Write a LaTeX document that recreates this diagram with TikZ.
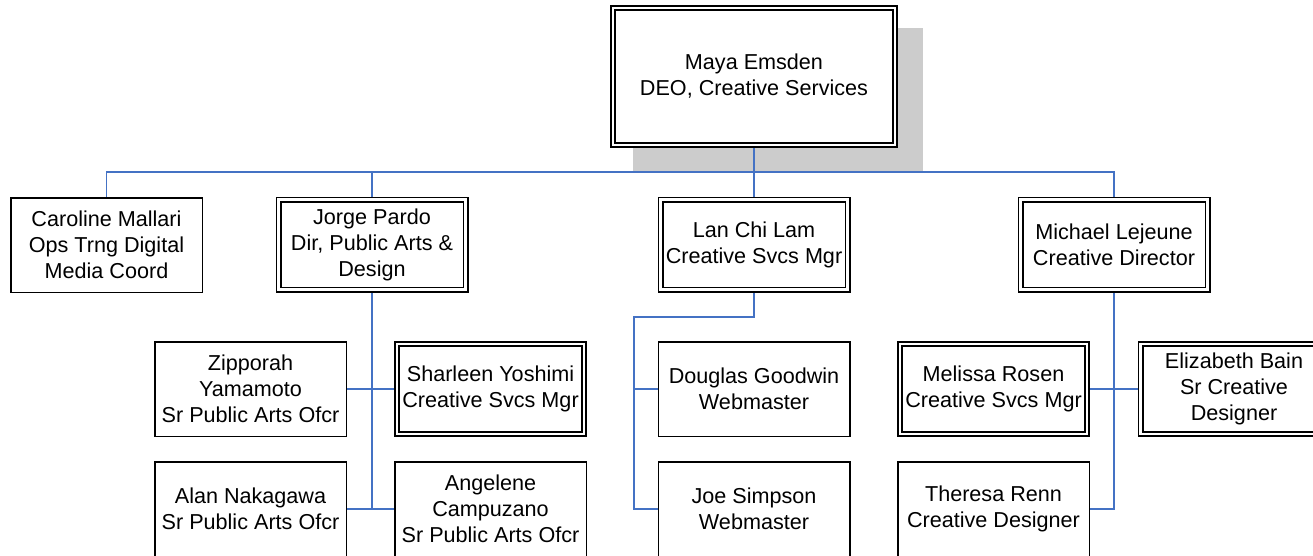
\documentclass[tikz,border=0pt]{standalone}
\usepackage{fontspec}
\setmainfont{Liberation Sans}
\usetikzlibrary{backgrounds}
\definecolor{connblue}{RGB}{68,114,196}
\definecolor{shadowgray}{RGB}{204,204,204}
\tikzset{
  box/.style={draw=black, line width=1.5pt, fill=white, minimum width=191.5pt, minimum height=94.5pt,
    align=center, inner sep=0pt, font=\fontsize{21.6}{26}\selectfont},
  dbox/.style={box, line width=1.7pt, double=white, double distance=2.6pt, minimum width=187pt, minimum height=90pt},
  conn/.style={draw=connblue, line width=1.8pt},
  shadowbox/.style={fill=shadowgray, draw=none}
}
\begin{document}
\begin{tikzpicture}[x=1pt,y=-1pt]
\useasboundingbox (0,0) rectangle (1313,556);
\clip (0,0) rectangle (1313,556);
% nodes
\node[dbox, minimum width=282pt, minimum height=137pt] (maya) at (754,76.5) {Maya Emsden\\DEO, Creative Services};
\node[box] (caroline) at (106.5,245) {Caroline Mallari\\Ops Trng Digital\\Media Coord};
\node[dbox] (jorge) at (372,244.5) {Jorge Pardo\\Dir, Public Arts \&\\Design};
\node[dbox] (lan) at (754,244.5) {Lan Chi Lam\\Creative Svcs Mgr};
\node[dbox] (michael) at (1114,244.5) {Michael Lejeune\\Creative Director};
\node[box] (zipporah) at (250.5,389) {Zipporah\\Yamamoto\\Sr Public Arts Ofcr};
\node[dbox] (sharleen) at (490.5,389) {Sharleen Yoshimi\\Creative Svcs Mgr};
\node[box] (alan) at (250.5,509) {Alan Nakagawa\\Sr Public Arts Ofcr};
\node[box] (angelene) at (490.5,509) {Angelene\\Campuzano\\Sr Public Arts Ofcr};
\node[box] (douglas) at (754,389) {Douglas Goodwin\\Webmaster};
\node[box] (joe) at (754,509) {Joe Simpson\\Webmaster};
\node[dbox] (melissa) at (993.5,389) {Melissa Rosen\\Creative Svcs Mgr};
\node[dbox] (elizabeth) at (1234,389) {Elizabeth Bain\\Sr Creative\\Designer};
\node[box] (theresa) at (993.5,509) {Theresa Renn\\Creative Designer};
\coordinate (bus) at (0,172);
\coordinate (lanelbow) at (634,317);
\begin{pgfonlayer}{background}
\node[shadowbox, minimum width=290pt, minimum height=144pt, inner sep=0pt, anchor=north west] (shadow) at (633,28) {};
\draw[conn] (maya.south) -- (lan.north);
\draw[conn] (caroline.north) -- (caroline.north |- bus) -| (michael.north);
\draw[conn] (jorge.north) -- (jorge.north |- bus);
\draw[conn] (jorge.south) -- (jorge.south |- alan.east);
\draw[conn] (zipporah.east) -- (sharleen.west);
\draw[conn] (alan.east) -- (angelene.west);
\draw[conn] (lan.south) |- (lanelbow) |- (joe.west);
\draw[conn] (douglas.west) -- (douglas.west -| lanelbow);
\draw[conn] (michael.south) |- (theresa.east);
\draw[conn] (melissa.east) -- (elizabeth.west);
\end{pgfonlayer}
\end{tikzpicture}
\end{document}
